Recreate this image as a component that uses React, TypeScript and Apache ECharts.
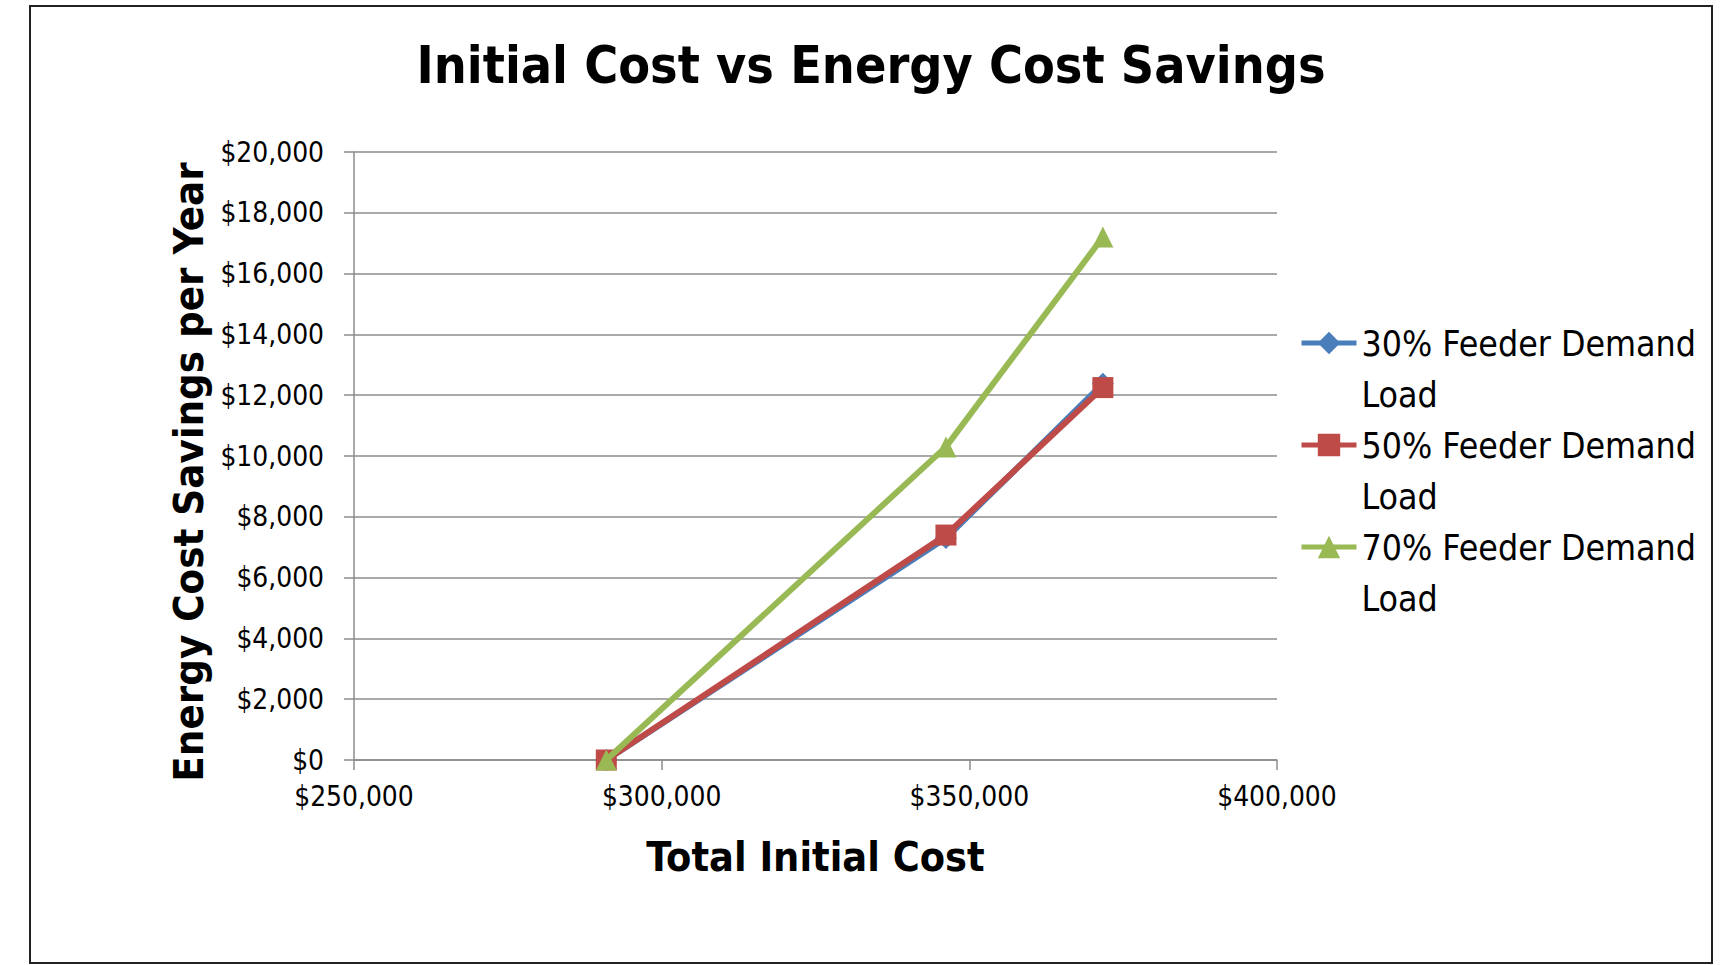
import React, { useEffect, useRef } from "react";
import * as echarts from "echarts";

const seriesNames = [
  "30% Feeder Demand Load",
  "50% Feeder Demand Load",
  "70% Feeder Demand Load",
];
const initialCost = [291000, 346200, 371700];
const savings30 = [0, 7300, 12380];
const savings50 = [0, 7400, 12250];
const savings70 = [0, 10300, 17200];
const seriesColors = ["#4A7EBB", "#BE4B48", "#98B954"];
const seriesSymbols = ["diamond", "rect", "triangle"];
const yTicks = { min: 0, max: 20000, interval: 2000 };
const xTicks = { min: 250000, max: 400000, interval: 50000 };
const titleText = "Initial Cost vs Energy Cost Savings";
const xName = "Total Initial Cost";
const yName = "Energy Cost Savings per Year";

const BOLD_FAMILY = "'Noto Sans ExtraCondensed', 'Noto Sans Condensed', 'DejaVu Sans Condensed', sans-serif";
const REG_FAMILY = "'Noto Sans Condensed', 'Noto Sans SemiCondensed', 'DejaVu Sans Condensed', sans-serif";

const money = (v: number) => "$" + Math.round(v).toLocaleString("en-US");

function fitSize(text: string, weight: string, family: string, target: number) {
  const c = document.createElement("canvas");
  const ctx = c.getContext("2d");
  if (!ctx) return 40;
  ctx.font = `${weight} 100px ${family}`;
  const w = ctx.measureText(text).width;
  return Math.round((target * 100 / w) * 10) / 10;
}

export default function App() {
  const ref = useRef<HTMLDivElement>(null);
  useEffect(() => {
    if (!ref.current) return;
    const chart = echarts.init(ref.current, undefined, { renderer: "svg" });
    const allSavings = [savings30, savings50, savings70];

    const titleSize = fitSize(titleText, "bold", BOLD_FAMILY, 909);
    const xNameSize = fitSize(xName, "bold", BOLD_FAMILY, 338);
    const yNameSize = fitSize(yName, "bold", BOLD_FAMILY, 619);
    const tickSize =
      (fitSize("$20,000", "normal", REG_FAMILY, 104) + fitSize("$250,000", "normal", REG_FAMILY, 119)) / 2;
    const legendSize = fitSize("30% Feeder Demand", "normal", REG_FAMILY, 335);

    const legendCenters = [343, 445, 547];
    const lh = 51;

    chart.setOption({
      animation: false,
      backgroundColor: "#ffffff",
      title: {
        text: titleText,
        left: 871 - 909 / 2,
        top: 49 - titleSize * 0.2,
        padding: 0,
        textStyle: { fontFamily: BOLD_FAMILY, fontWeight: "bold", fontSize: titleSize, color: "#000" },
      },
      legend: seriesNames.map((n, i) => ({
        data: [n],
        left: 1299,
        top: legendCenters[i] - lh * 1.5,
        padding: 0,
        itemWidth: 55,
        itemHeight: 28,
        lineStyle: { width: 5 },
        formatter: (name: string) => "\n" + name.replace(" Load", "\nLoad"),
        textStyle: {
          fontFamily: REG_FAMILY,
          fontSize: legendSize,
          lineHeight: lh,
          color: "#000",
        },
      })),
      grid: { left: 354, top: 152, width: 923, height: 608 },
      xAxis: {
        type: "value",
        min: xTicks.min,
        max: xTicks.max,
        interval: xTicks.interval,
        name: xName,
        nameLocation: "middle",
        nameGap: 76,
        nameTextStyle: { fontFamily: BOLD_FAMILY, fontWeight: "bold", fontSize: xNameSize, color: "#000" },
        axisLine: { show: true, lineStyle: { color: "#8c8c8c", width: 1.5 } },
        axisTick: { show: true, length: 10, lineStyle: { color: "#8c8c8c", width: 1.5 } },
        axisLabel: { fontFamily: REG_FAMILY, fontSize: tickSize, color: "#000", margin: 22, formatter: money },
        splitLine: { show: false },
      },
      yAxis: {
        type: "value",
        min: yTicks.min,
        max: yTicks.max,
        interval: yTicks.interval,
        name: yName,
        nameLocation: "middle",
        nameRotate: 90,
        nameGap: 130,
        nameTextStyle: {
          fontFamily: BOLD_FAMILY,
          fontWeight: "bold",
          fontSize: yNameSize,
          color: "#000",
          padding: [0, 32, 0, 0],
        },
        axisLine: { show: true, lineStyle: { color: "#8c8c8c", width: 1.5 } },
        axisTick: { show: true, length: 10, lineStyle: { color: "#8c8c8c", width: 1.5 } },
        axisLabel: { fontFamily: REG_FAMILY, fontSize: tickSize, color: "#000", margin: 30, formatter: money },
        splitLine: { show: true, lineStyle: { color: "#8c8c8c", width: 1.5 } },
      },
      series: seriesNames.map((n, i) => ({
        name: n,
        type: "line",
        data: initialCost.map((c, j) => [c, allSavings[i][j]]),
        symbol: seriesSymbols[i],
        symbolSize: i === 0 ? 22 : 21,
        showSymbol: true,
        lineStyle: { color: seriesColors[i], width: 6 },
        itemStyle: { color: seriesColors[i] },
        z: 2 + i,
      })),
      graphic: [
        {
          type: "rect",
          shape: { x: 30, y: 6, width: 1682, height: 957 },
          style: { fill: "none", stroke: "#222", lineWidth: 2 },
          silent: true,
          z: 100,
        },
      ],
    });
    return () => chart.dispose();
  }, []);
  return (
    <div
      ref={ref}
      style={{ position: "fixed", left: 0, top: 0, width: 1729, height: 965 }}
    />
  );
}
